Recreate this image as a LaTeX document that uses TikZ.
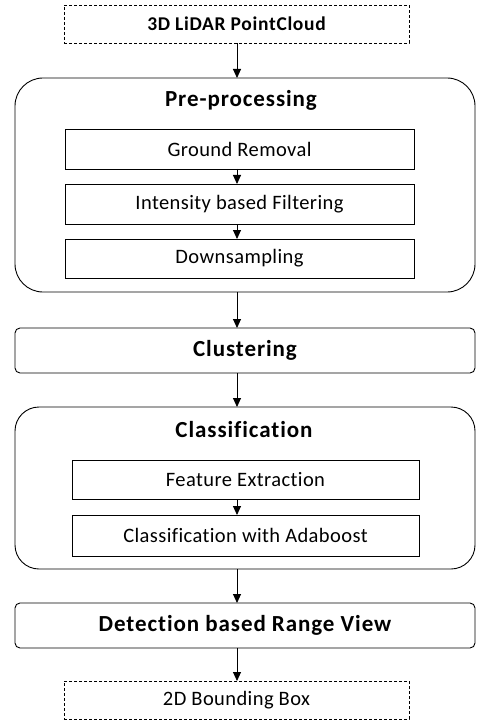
\documentclass[tikz,border=0pt]{standalone}
\usepackage{fontspec}
\setmainfont{Carlito}[Ligatures=NoCommon]
\newfontfamily\stepfont{Carlito}[Ligatures=NoCommon,LetterSpace=2]
\newfontfamily\titlefont{Carlito}[Ligatures=NoCommon,LetterSpace=4]
\newfontfamily\inputfont{Carlito}[Ligatures=NoCommon,LetterSpace=3.5]
\usetikzlibrary{arrows.meta}
\begin{document}
\begin{tikzpicture}[x=1pt,y=-1pt,
  every node/.style={inner sep=0pt,outer sep=0pt,font=\stepfont\fontsize{20.5}{22}\selectfont},
  dashbox/.style={draw,line width=0.8pt,dash pattern=on 3pt off 2pt,minimum width=345pt,minimum height=38pt},
  stepbox/.style={draw,line width=0.9pt},
  groupbox/.style={draw,line width=0.9pt,rounded corners=28pt},
  flatgroup/.style={draw,line width=0.9pt,rounded corners=5pt,font=\titlefont\bfseries\fontsize{23}{25}\selectfont},
  grouptitle/.style={font=\titlefont\bfseries\fontsize{23}{25}\selectfont},
  flow/.style={line width=0.9pt,-{Triangle[length=9pt,width=8pt]}}]
\useasboundingbox (0,0) rectangle (477,722);
\coordinate (ax) at (237,0);

% input / output
\node[dashbox,font=\inputfont\bfseries\fontsize{19.5}{21}\selectfont] (in) at (236.5,24) {3D LiDAR PointCloud};
\node[dashbox] (out) at (236.5,700) {2D Bounding Box};

% pre-processing group
\node[groupbox,minimum width=460pt,minimum height=214pt] (pre) at (245,185) {};
\node[grouptitle] (pret) at (241,100) {Pre-processing};
\node[stepbox,minimum width=349pt,minimum height=40pt] (ground) at (239.5,149) {Ground Removal};
\node[stepbox,minimum width=349pt,minimum height=40pt] (inten) at (239.5,204) {Intensity based Filtering};
\node[stepbox,minimum width=349pt,minimum height=39pt] (down) at (239.5,258.5) {Downsampling};

% clustering
\node[flatgroup,minimum width=460pt,minimum height=45pt] (clust) at (245,350.5) {Clustering};

% classification group
\node[groupbox,rounded corners=24pt,minimum width=460pt,minimum height=162pt] (cls) at (245,488) {};
\node[grouptitle] (clst) at (244,430) {Classification};
\node[stepbox,minimum width=347pt,minimum height=39pt] (feat) at (245.5,479.5) {Feature Extraction};
\node[stepbox,minimum width=347pt,minimum height=41pt] (ada) at (245.5,535.5) {Classification with Adaboost};

% detection
\node[flatgroup,minimum width=460pt,minimum height=45pt] (det) at (245,625.5) {Detection based Range View};

% connectors
\draw[flow] (in.south -| ax) -- (pre.north -| ax);
\draw[flow] (ground.south -| ax) -- (inten.north -| ax);
\draw[flow] (inten.south -| ax) -- (down.north -| ax);
\draw[flow] (pre.south -| ax) -- (clust.north -| ax);
\draw[flow] (clust.south -| ax) -- (cls.north -| ax);
\draw[flow] (feat.south -| ax) -- (ada.north -| ax);
\draw[flow] (cls.south -| ax) -- (det.north -| ax);
\draw[flow] (det.south -| ax) -- (out.north -| ax);
\end{tikzpicture}
\end{document}
